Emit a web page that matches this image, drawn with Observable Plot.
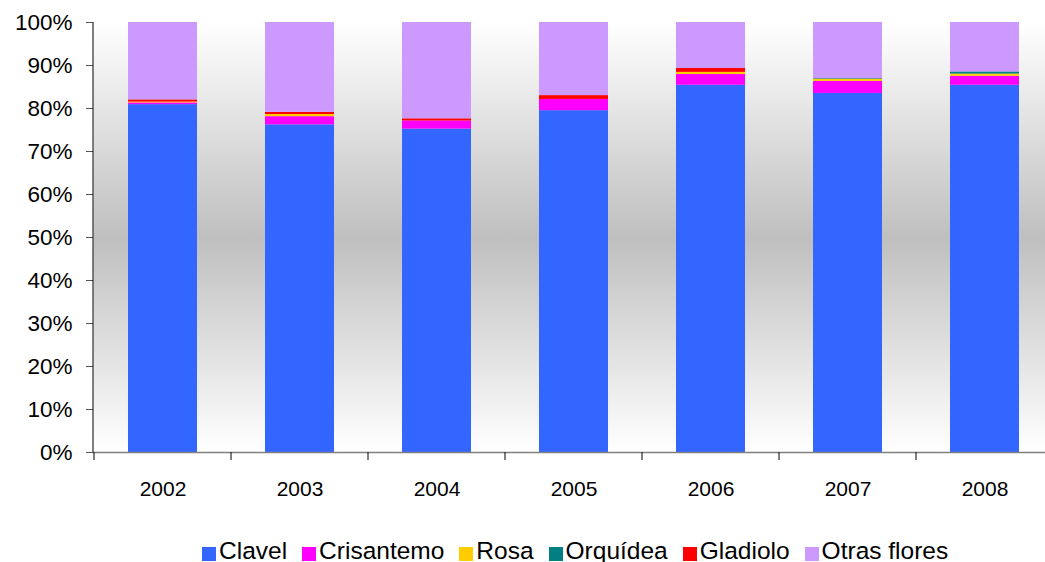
<!DOCTYPE html>
<html>
<head>
<meta charset="utf-8">
<script src="https://cdn.jsdelivr.net/npm/d3@7"></script>
<script src="https://cdn.jsdelivr.net/npm/@observablehq/plot@0.6"></script>
<style>
  html, body { margin: 0; padding: 0; background: #ffffff; overflow: hidden; }
  #wrap { position: relative; width: 1045px; height: 562px; font-family: "Liberation Sans", Arial, sans-serif; }
  #legend { position: absolute; left: 202px; top: 537px; display: flex; align-items: center; font-size: 24.5px; line-height: 28px; color: #000; white-space: nowrap; }
  #legend .item { display: flex; align-items: center; margin-right: 15px; }
  #legend .sw { width: 14px; height: 14px; margin-right: 3px; margin-top: 6px; }
</style>
</head>
<body>
<div id="wrap"></div>
<script>
// Years on the horizontal axis
const years = ["2002", "2003", "2004", "2005", "2006", "2007", "2008"];

// Flower types, bottom to top of each stack, and their fills
const series = ["Clavel", "Crisantemo", "Rosa", "Orquídea", "Gladiolo", "Otras flores"];
const colors = ["#3366ff", "#ff00ff", "#ffcc00", "#008080", "#ff0000", "#cc99ff"];

// Share of each flower type per year (%)
const clavel     = [80.9, 76.2, 75.2, 79.5, 85.4, 83.5, 85.4];
const crisantemo = [0.4, 1.9, 1.9, 2.6, 2.5, 2.8, 2.1];
const rosa       = [0.2, 0.5, 0.0, 0.0, 0.5, 0.5, 0.5];
const orquidea   = [0.0, 0.0, 0.0, 0.0, 0.0, 0.15, 0.5];
const gladiolo   = [0.5, 0.5, 0.5, 0.9, 0.9, 0.0, 0.0];
const otras      = [18.0, 20.9, 22.4, 17.0, 10.7, 13.05, 11.5];

// Y axis ticks
const yTicks = [0, 10, 20, 30, 40, 50, 60, 70, 80, 90, 100];

const seriesValues = [clavel, crisantemo, rosa, orquidea, gladiolo, otras];
const rows = years.flatMap((year, i) =>
  series.map((serie, j) => ({year, serie, value: seriesValues[j][i]}))
);

// Vertical grey band behind the plotting area
const background = () => {
  const defs = d3.create("svg:defs");
  const g = defs.append("linearGradient")
    .attr("id", "bg-grad").attr("x1", 0).attr("y1", 0).attr("x2", 0).attr("y2", 1);
  g.append("stop").attr("offset", "0%").attr("stop-color", "#ffffff");
  g.append("stop").attr("offset", "50%").attr("stop-color", "#bfbfbf");
  g.append("stop").attr("offset", "100%").attr("stop-color", "#ffffff");
  return defs.node();
};

const W = 1045, H = 512;
const chart = Plot.plot({
  width: W,
  height: H,
  marginLeft: 93,
  marginRight: 0,
  marginTop: 22,
  marginBottom: 60,
  style: {fontFamily: "'Liberation Sans', Arial, sans-serif", fontSize: "21px", color: "#000", background: "transparent", overflow: "visible"},
  x: {domain: years, range: [93, 1054], paddingInner: 0.5, paddingOuter: 0.25, label: null},
  y: {domain: [0, 100], label: null},
  color: {domain: series, range: colors},
  marks: [
    background,
    Plot.frame({fill: "url(#bg-grad)", stroke: null}),
    Plot.barY(rows, {x: "year", y: "value", fill: "serie", order: series}),
    Plot.ruleY([0], {stroke: "#808080", strokeWidth: 1.5}),
    Plot.axisY({ticks: yTicks, tickFormat: d => d + "%", tickSize: 7, tickPadding: 14, stroke: "#555", fill: "#000", fontSize: 22.5, label: null}),
    Plot.axisX({tickSize: 0, tickPadding: 29, fill: "#000", fontSize: 21, label: null})
  ]
});

document.getElementById("wrap").appendChild(chart);

// Vertical axis line and category separator ticks, placed with the chart's own scales
const xs = chart.scale("x"), ys = chart.scale("y");
const y0 = ys.apply(0), y100 = ys.apply(100);
const half = (xs.step - xs.bandwidth) / 2;
const svg = d3.select(chart);
const bounds = years.map(y => xs.apply(y) - half).concat([xs.apply(years[years.length - 1]) + xs.bandwidth + half]);
svg.append("g").selectAll("line").data(bounds).join("line")
  .attr("x1", d => d).attr("x2", d => d)
  .attr("y1", y0).attr("y2", y0 + 8)
  .attr("stroke", "#000").attr("stroke-width", 1);
svg.append("line")
  .attr("x1", xs.range[0]).attr("x2", xs.range[0])
  .attr("y1", y100).attr("y2", y0)
  .attr("stroke", "#000").attr("stroke-width", 1);

// Legend below the chart
const legend = d3.select("#wrap").append("div").attr("id", "legend");
const items = legend.selectAll(".item").data(series).join("div").attr("class", "item");
items.append("div").attr("class", "sw").style("background", (d, i) => colors[i]);
items.append("span").text(d => d);
</script>
</body>
</html>
